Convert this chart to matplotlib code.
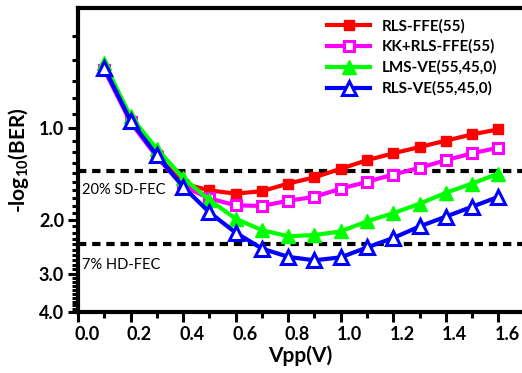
import numpy as np
import matplotlib
matplotlib.use("Agg")
import matplotlib.pyplot as plt
from matplotlib import ticker
from matplotlib.transforms import ScaledTranslation

plt.rcParams["font.family"] = ["Lato", "DejaVu Sans"]
plt.rcParams["mathtext.fontset"] = "custom"
plt.rcParams["mathtext.rm"] = "Lato:bold"
plt.rcParams["mathtext.bf"] = "Lato:bold"

vpp = [0.1, 0.2, 0.3, 0.4, 0.5, 0.6, 0.7, 0.8,
       0.9, 1.0, 1.1, 1.2, 1.3, 1.4, 1.5, 1.6]

# -log10(BER)
rls_ffe = [0.64, 0.95, 1.23, 1.52, 1.60, 1.64, 1.61, 1.52,
           1.45, 1.36, 1.275, 1.21, 1.155, 1.10, 1.05, 1.01]
kk_rls_ffe = [0.645, 0.958, 1.244, 1.55, 1.70, 1.79, 1.80, 1.73,
              1.68, 1.58, 1.50, 1.42, 1.35, 1.275, 1.21, 1.16]
lms_ve = [0.613, 0.917, 1.17, 1.455, 1.72, 1.98, 2.16, 2.26,
          2.24, 2.18, 2.02, 1.90, 1.77, 1.63, 1.52, 1.41]
rls_ve = [0.636, 0.947, 1.229, 1.556, 1.888, 2.20, 2.48, 2.64,
          2.71, 2.65, 2.46, 2.29, 2.10, 1.95, 1.81, 1.68]

sd_fec = 1.385
hd_fec = 2.40

fig = plt.figure(figsize=(5.22, 3.73), dpi=100)
ax = fig.add_axes([78 / 522, 1 - 312 / 373, 1 - 78 / 522, 304 / 373])

lw = 3.0
ax.plot(vpp, rls_ffe, color="#ff0000", lw=lw, marker="s", ms=7.5,
        mfc="#ff0000", mec="#ff0000", label="RLS-FFE(55)")
ax.plot(vpp, kk_rls_ffe, color="#ff00ff", lw=lw, marker="s", ms=7.5,
        mfc="white", mec="#ff00ff", mew=2.2, label="KK+RLS-FFE(55)")
ax.plot(vpp, lms_ve, color="#00ff00", lw=lw, marker="^", ms=9.5,
        mfc="#00ff00", mec="#00ff00", label="LMS-VE(55,45,0)")
ax.plot(vpp, rls_ve, color="#0000ff", lw=lw, marker="^", ms=9.5,
        mfc="white", mec="#0000ff", mew=2.2, label="RLS-VE(55,45,0)")

ax.axhline(sd_fec, color="black", lw=3, ls=(0, (2, 1.4)), zorder=1)
ax.axhline(hd_fec, color="black", lw=3, ls=(0, (2, 1.4)), zorder=1)
ax.text(0.015, 1.60, "20% SD-FEC", fontsize=10.5, va="center", ha="left")
ax.text(0.015, 2.81, "7% HD-FEC", fontsize=10.5, va="center", ha="left")

ax.set_yscale("log")
ax.set_ylim(4.0, 0.405)
ax.set_xlim(0, 1.69)

ax.yaxis.set_major_locator(ticker.FixedLocator([1, 2, 3, 4]))
ax.yaxis.set_major_formatter(ticker.FormatStrFormatter("%.1f"))
ax.yaxis.set_minor_locator(ticker.FixedLocator(
    [v / 10 for v in range(5, 40) if v % 10 != 0]))
ax.yaxis.set_minor_formatter(ticker.NullFormatter())

ax.xaxis.set_major_locator(ticker.MultipleLocator(0.2))
ax.xaxis.set_minor_locator(ticker.MultipleLocator(0.1))
ax.xaxis.set_major_formatter(ticker.FormatStrFormatter("%.1f"))

ax.tick_params(which="major", direction="out", length=7, width=2.2,
               labelsize=13, pad=3)
ax.tick_params(which="minor", direction="out", length=4, width=2.2)
for lab in ax.get_xticklabels() + ax.get_yticklabels():
    lab.set_fontweight("bold")
for lab in ax.get_xticklabels():
    lab.set_transform(lab.get_transform()
                      + ScaledTranslation(0.09, 0, fig.dpi_scale_trans))

for s in ["left", "bottom", "top"]:
    ax.spines[s].set_linewidth(3)
ax.spines["right"].set_visible(False)

ax.set_xlabel("Vpp(V)", fontsize=15, fontweight="bold", labelpad=2)
ax.set_ylabel(r"-log$_{\mathbf{10}}$(BER)", fontsize=15, fontweight="bold",
              labelpad=6)

ax.legend(loc="upper left", bbox_to_anchor=(0.548, 0.985), frameon=False,
          prop={"weight": "bold", "size": 11}, handlelength=2.8,
          handletextpad=0.75, labelspacing=0.42, borderaxespad=0)

fig.savefig("out.png", dpi=100)
